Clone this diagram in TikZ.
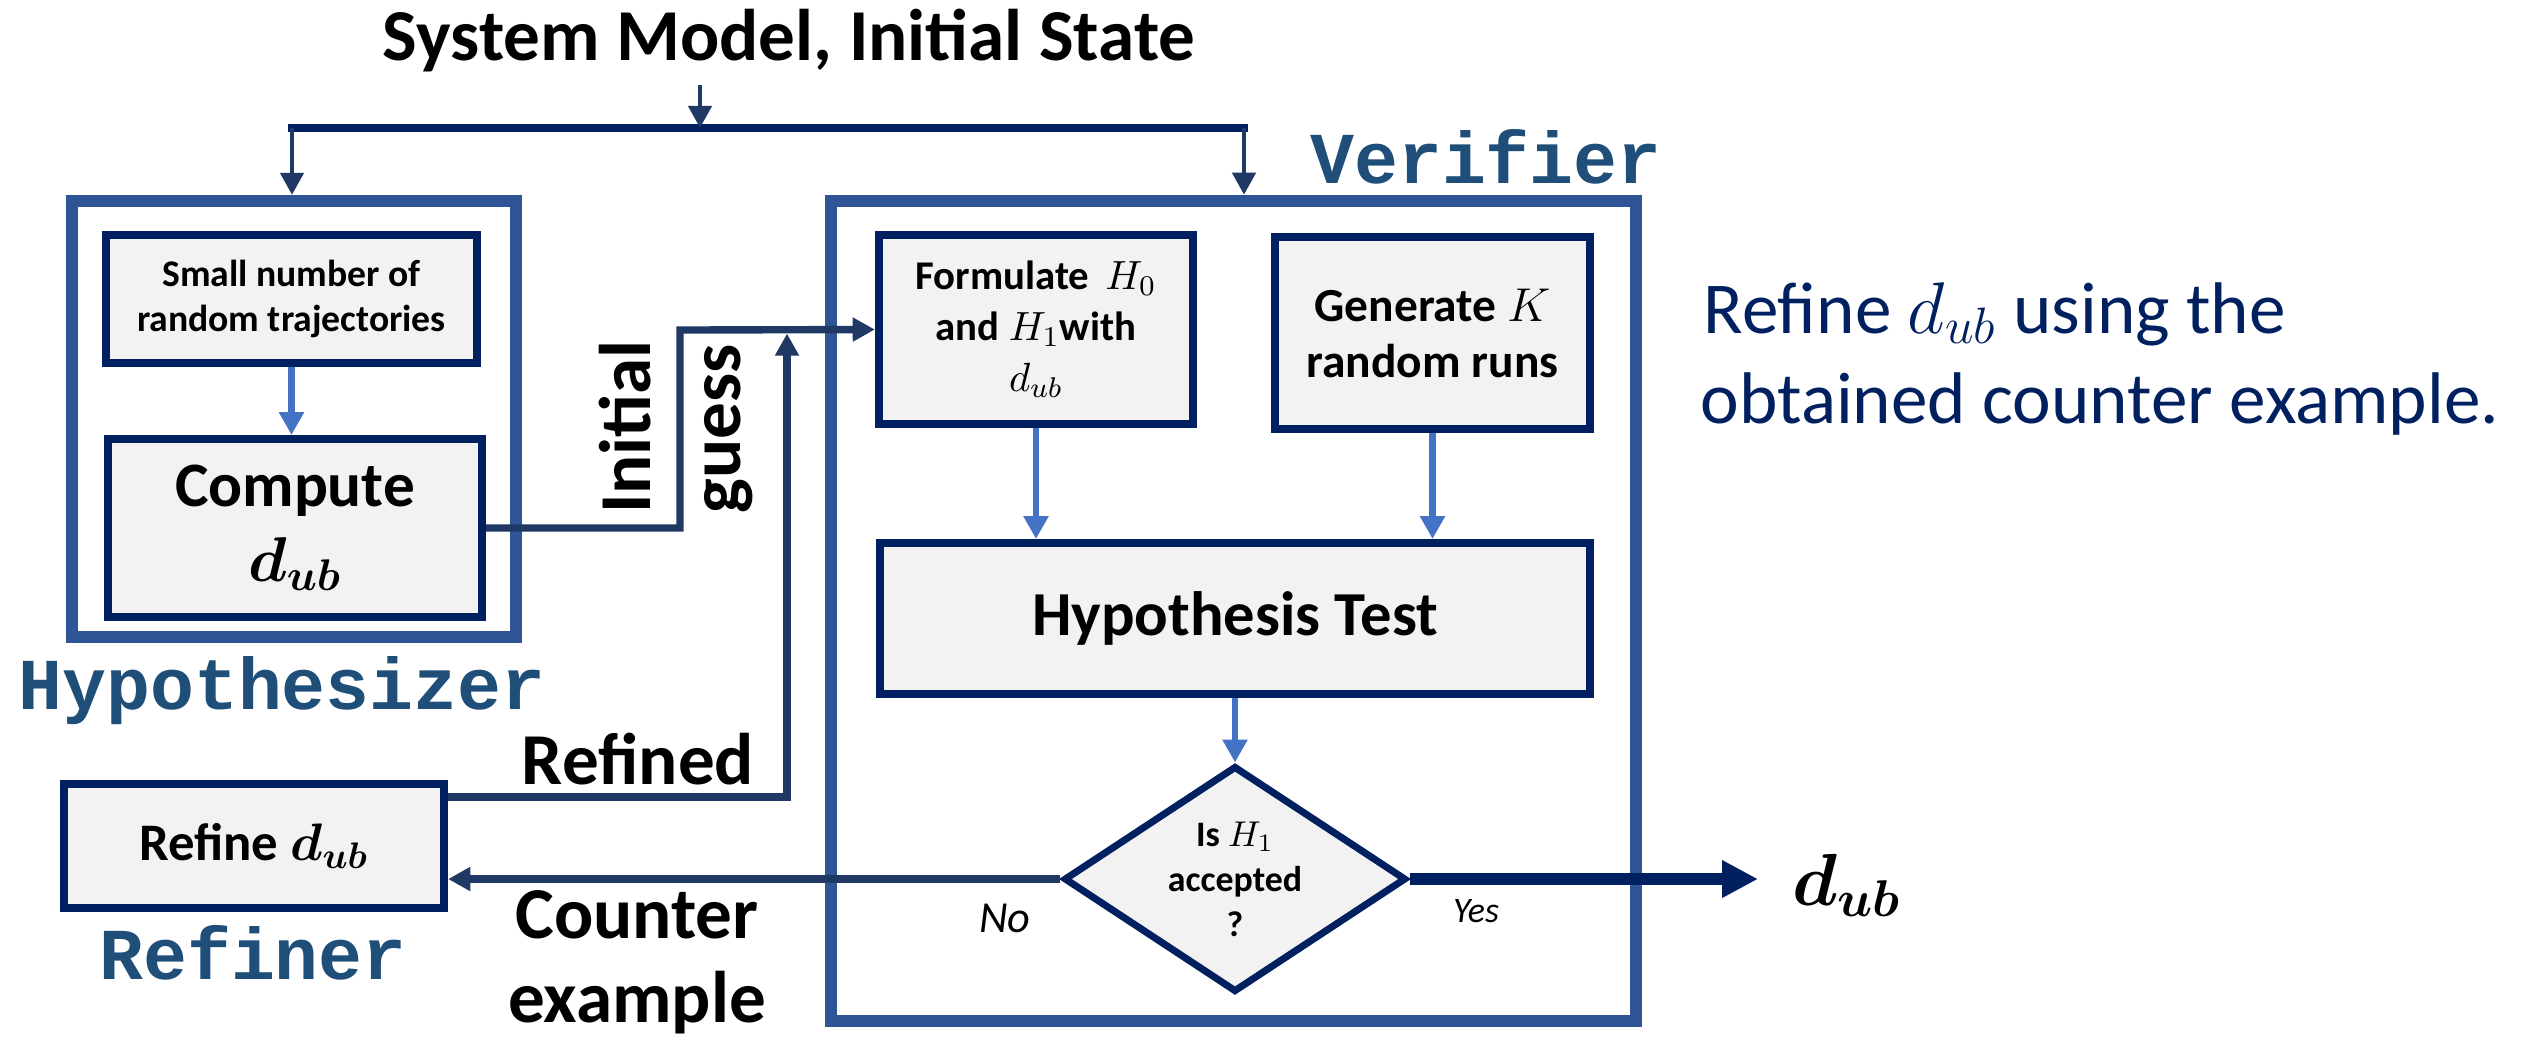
\RequirePackage{fix-cm}
\documentclass[tikz,border=0pt]{standalone}
\usepackage{bm}
\usepackage{fontspec}
\setmainfont{Carlito}
\newfontfamily\labelfont{Liberation Mono}
\usetikzlibrary{arrows.meta,shapes.geometric}

\definecolor{outerblue}{HTML}{2F5597}
\definecolor{innernavy}{HTML}{002060}
\definecolor{connnavy}{HTML}{203864}
\definecolor{lightblue}{HTML}{4472C4}
\definecolor{boxgray}{HTML}{F2F2F2}
\definecolor{labelblue}{HTML}{1F4E79}

\begin{document}
\begin{tikzpicture}[x=0.01cm,y=-0.01cm,
  outerbox/.style={draw=outerblue, line width=3.4pt, inner sep=0pt},
  procbox/.style={draw=innernavy, line width=2.3pt, fill=boxgray, inner sep=0pt, align=center},
  decision/.style={diamond, draw=innernavy, line width=2pt, fill=boxgray, inner sep=0pt},
  grouplabel/.style={text=labelblue, font=\labelfont\bfseries\fontsize{20.8}{25}\selectfont, inner sep=0pt},
  biglabel/.style={font=\bfseries\fontsize{20.8}{25.6}\selectfont, inner sep=0pt},
  notetext/.style={text=innernavy, font=\fontsize{20.8}{25.6}\selectfont, inner sep=0pt},
  thinarrow/.style={draw=connnavy, line width=1.4pt, -{Triangle[length=6.3pt,width=6.5pt]}},
  busline/.style={draw=innernavy, line width=2pt, line cap=rect},
  conn/.style={draw=connnavy, line width=2.1pt, -{Triangle[length=6.3pt,width=6.5pt]}},
  lightarrow/.style={draw=lightblue, line width=1.8pt, -{Triangle[length=6.5pt,width=6.8pt]}},
  yesarrow/.style={draw=innernavy, line width=3.4pt, -{Triangle[length=10.2pt,width=10pt]}}
]
\useasboundingbox (0,0) rectangle (2522,1041);

% group containers
\node[outerbox, minimum width=4.44cm, minimum height=4.36cm] (hyp) at (294,419) {};
\node[outerbox, minimum width=8.05cm, minimum height=8.20cm] (ver) at (1233.5,611) {};

% process boxes
\node[procbox, minimum width=3.71cm, minimum height=1.28cm,
      font=\bfseries\fontsize{10.7}{12.8}\selectfont] (traj) at (291.5,299)
      {Small number of\\random trajectories};
\node[procbox, minimum width=3.74cm, minimum height=1.78cm,
      font=\bfseries\fontsize{18}{21.3}\selectfont] (comp) at (295,528)
      {Compute\\$\bm{d_{ub}}$};
\node[procbox, minimum width=3.14cm, minimum height=1.89cm,
      font=\bfseries\fontsize{11.6}{14.5}\selectfont] (form) at (1036,329.5)
      {Formulate \,$H_0$\\and $H_1$with\\$d_{ub}$};
\node[procbox, minimum width=3.15cm, minimum height=1.92cm,
      font=\bfseries\fontsize{13.5}{15.9}\selectfont] (gen) at (1432.5,333)
      {Generate $K$\\random runs};
\node[procbox, minimum width=7.10cm, minimum height=1.51cm,
      font=\bfseries\fontsize{17.8}{21}\selectfont] (ht) at (1235,618.5)
      {Hypothesis Test};
\node[procbox, minimum width=3.80cm, minimum height=1.24cm,
      font=\bfseries\fontsize{15}{18}\selectfont] (ref) at (254,846)
      {Refine $\bm{d_{ub}}$};
\node[decision, minimum width=3.42cm, minimum height=2.26cm] (dia) at (1235,879) {};
\node[align=center, inner sep=0pt, font=\bfseries\fontsize{10.2}{12.8}\selectfont] (diatext) at (dia.center)
      {Is $H_1$\\accepted\\?};

% group labels
\node[grouplabel, anchor=base] (hyplbl) at (282,709) {Hypothesizer};
\node[grouplabel, anchor=base] (verlbl) at (1486,183) {Verifier};
\node[grouplabel, anchor=base] (reflbl) at (253,979) {Refiner};

% inputs from the system model
\node[biglabel, anchor=base] (ttl) at (789,60) {System Model, Initial State};
\coordinate (tsrc) at (700,85);
\coordinate (busM) at (700,128);
\coordinate (busL) at (292,128);
\coordinate (busR) at (1244,128);
\draw[busline] (busL) -- (busR);
\draw[thinarrow] (tsrc) -- (busM);
\draw[thinarrow] (busL) -- (busL |- hyp.north);
\draw[thinarrow] (busR) -- (busR |- ver.north);

% internal flow
\draw[lightarrow] (traj.south) -- (traj.south |- comp.north);
\draw[lightarrow] (form.south) -- (form.south |- ht.north);
\draw[lightarrow] (gen.south) -- (gen.south |- ht.north);
\draw[lightarrow] (ht.south) -- (dia.north);

% initial guess and refinement loop
\coordinate (igturn) at (680,330);
\coordinate (rfturn) at (787,797);
\draw[conn] (comp.east) -| (igturn) -- (form.west);
\draw[conn, shorten >=1pt] (ref.east |- rfturn) -- (rfturn) -- (rfturn |- igturn);
\draw[conn] (dia.west) -- (dia.west -| ref.east);

% accepted bound
\node[anchor=base west, inner sep=0pt, font=\fontsize{21}{25}\selectfont] (out) at (1792,905) {$\bm{d_{ub}}$};
\draw[yesarrow, shorten >=0.34cm] (dia.east) -- (dia.east -| out.west);

% connector labels
\node[biglabel, anchor=base, rotate=90] (ini) at (650,427) {Initial};
\node[biglabel, anchor=base, rotate=90] (gue) at (740,429) {guess};
\node[biglabel, anchor=base] (rfd) at (638,784) {Refined};
\node[biglabel, anchor=base] (cnt) at (637,938) {Counter};
\node[biglabel, anchor=base] (exm) at (637,1022) {example};
\node[anchor=base, inner sep=0pt, font=\itshape\fontsize{12.6}{15}\selectfont] (nolbl) at (1005,932) {No};
\node[anchor=base, inner sep=0pt, font=\itshape\fontsize{10.2}{12}\selectfont] (yeslbl) at (1476,922) {Yes};

% refinement note
\node[notetext, anchor=base west] (note1) at (1703,333) {Refine $d_{ub}$ using the};
\node[notetext, anchor=base west] (note2) at (1700,423) {obtained counter example.};
\end{tikzpicture}
\end{document}
